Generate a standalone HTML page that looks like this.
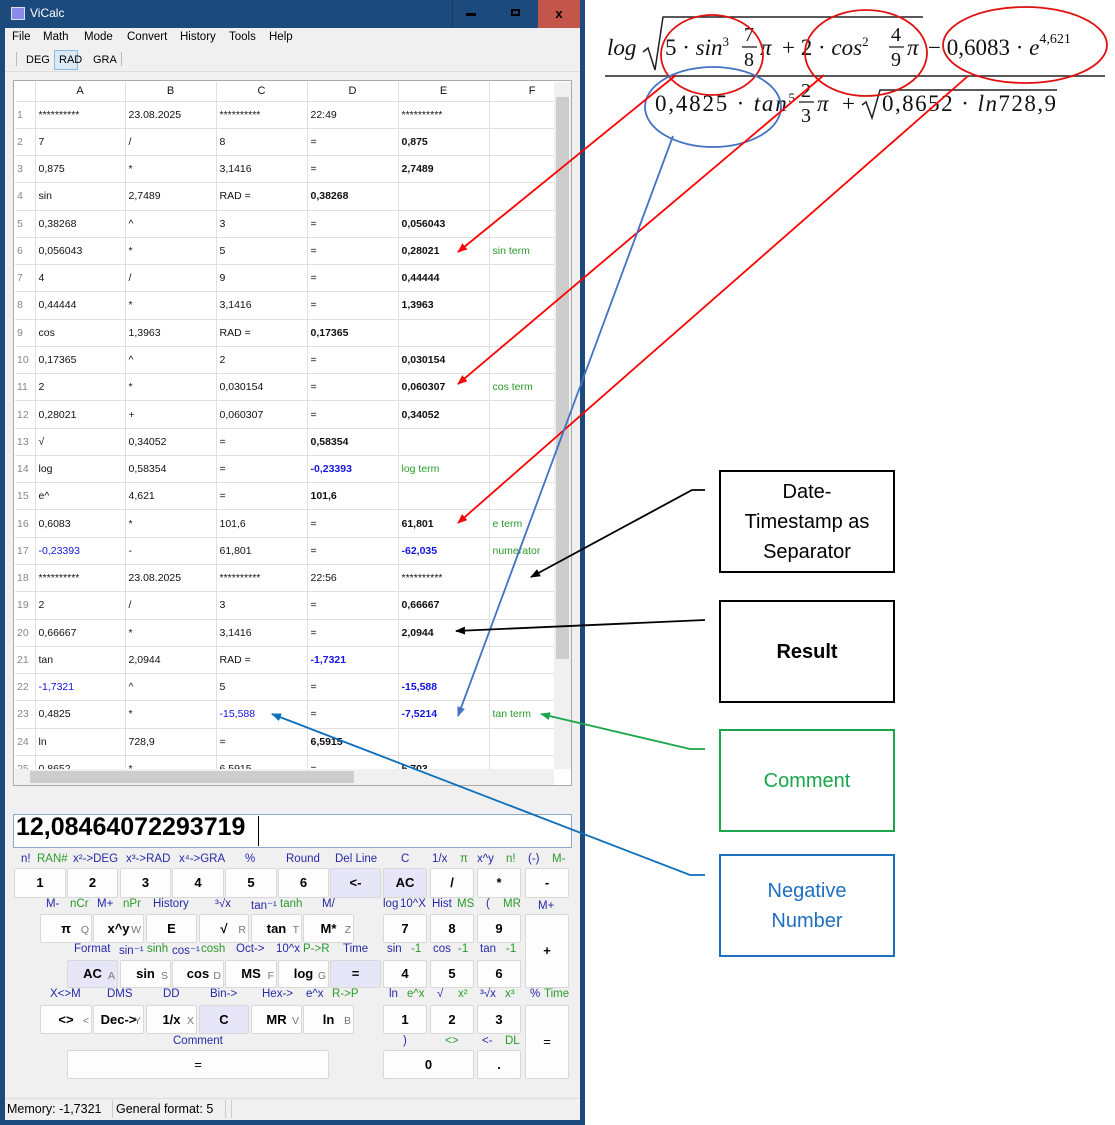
<!DOCTYPE html>
<html><head><meta charset="utf-8">
<style>
*{margin:0;padding:0;box-sizing:border-box}
body{width:1115px;height:1125px;background:#fff;position:relative;overflow:hidden;font-family:"Liberation Sans",sans-serif}
.a{position:absolute}
#win{left:0;top:0;width:585px;height:1125px;background:#1c4a7c}
#inner{left:5px;top:28px;width:575px;height:1092px;background:#f0f0f0}
.menu{top:31px;font-size:11.5px;color:#000}
table{border-collapse:collapse;table-layout:fixed;font-size:10.5px}
td{border-right:1px solid #e0e0e0;border-bottom:1px solid #e0e0e0;height:27.27px;padding-left:3px;white-space:nowrap;overflow:visible;color:#111}
tr.h td{height:19px;text-align:center;padding:0;font-size:11px}
td.n{color:#888;padding-left:2px;font-size:10.5px}
.b{font-weight:bold}
.bl{color:#1515e0}
.g{color:#2a9a2a}
.btn{position:absolute;background:#fdfdfd;border:1px solid #d8d8d8;border-radius:2px;font-weight:bold;font-size:13px;text-align:center;color:#000}
.sp{background:#e6e6f8}
.k{position:absolute;right:2px;bottom:-2px;font-size:10.5px;font-weight:normal;color:#777}
.L{position:absolute;font-size:11.5px;white-space:nowrap}
.lb{color:#2828a8}.lg{color:#2a9a2a}
.box{position:absolute;border:2px solid #000;display:flex;align-items:center;justify-content:center;text-align:center;font-size:20px;line-height:30px}
</style></head><body>
<div id="win" class="a"></div>
<div class="a" style="left:538px;top:0;width:42px;height:28px;background:#c4554b;color:#000;font-weight:bold;font-size:13px;text-align:center;line-height:27px">x</div>
<div class="a" style="left:452px;top:0;width:86px;height:28px;border-left:1px solid #16375c"></div>
<div class="a" style="left:466px;top:13px;width:10px;height:3px;background:#000"></div>
<div class="a" style="left:511px;top:9px;width:9px;height:7px;border:2px solid #000"></div>
<div class="a" style="left:11px;top:7px;width:14px;height:13px;background:#8a8ae8;border:1px solid #dde"></div>
<div class="a" style="left:30px;top:6px;color:#fff;font-size:12px">ViCalc</div>
<div id="inner" class="a"></div>
<div class="a menu" style="left:12px">File</div><div class="a menu" style="left:43px">Math</div><div class="a menu" style="left:84px">Mode</div><div class="a menu" style="left:127px">Convert</div><div class="a menu" style="left:180px">History</div><div class="a menu" style="left:229px">Tools</div><div class="a menu" style="left:269px">Help</div>
<div class="a" style="left:16px;top:52px;width:1px;height:14px;background:#bbb"></div>
<div class="a" style="left:26px;top:54px;font-size:11px">DEG</div>
<div class="a" style="left:54px;top:50px;width:24px;height:20px;background:#dbe9f6;border:1px solid #8bb8e0"></div>
<div class="a" style="left:59px;top:54px;font-size:11px">RAD</div>
<div class="a" style="left:93px;top:54px;font-size:11px">GRA</div>
<div class="a" style="left:121px;top:52px;width:1px;height:14px;background:#bbb"></div>
<div class="a" style="left:5px;top:71px;width:575px;height:1px;background:#ddd"></div>
<!-- grid -->
<div class="a" style="left:13px;top:80px;width:559px;height:706px;border:1px solid #aaa;background:#fff"></div>
<div class="a" style="left:15px;top:82px;width:539px;height:687px;overflow:hidden;background:#fff">
<table style="width:539px">
<colgroup><col style="width:20px"><col style="width:90px"><col style="width:91px"><col style="width:91px"><col style="width:91px"><col style="width:91px"><col style="width:65px"></colgroup>
<tr class="h"><td></td><td>A</td><td>B</td><td>C</td><td>D</td><td>E</td><td style="text-align:right;padding-right:18px">F</td></tr>
<tr><td class="n">1</td><td>**********</td><td>23.08.2025</td><td>**********</td><td>22:49</td><td>**********</td><td></td></tr>
<tr><td class="n">2</td><td>7</td><td>/</td><td>8</td><td>=</td><td class="b">0,875</td><td></td></tr>
<tr><td class="n">3</td><td>0,875</td><td>*</td><td>3,1416</td><td>=</td><td class="b">2,7489</td><td></td></tr>
<tr><td class="n">4</td><td>sin</td><td>2,7489</td><td>RAD =</td><td class="b">0,38268</td><td></td><td></td></tr>
<tr><td class="n">5</td><td>0,38268</td><td>^</td><td>3</td><td>=</td><td class="b">0,056043</td><td></td></tr>
<tr><td class="n">6</td><td>0,056043</td><td>*</td><td>5</td><td>=</td><td class="b">0,28021</td><td class="g">sin term</td></tr>
<tr><td class="n">7</td><td>4</td><td>/</td><td>9</td><td>=</td><td class="b">0,44444</td><td></td></tr>
<tr><td class="n">8</td><td>0,44444</td><td>*</td><td>3,1416</td><td>=</td><td class="b">1,3963</td><td></td></tr>
<tr><td class="n">9</td><td>cos</td><td>1,3963</td><td>RAD =</td><td class="b">0,17365</td><td></td><td></td></tr>
<tr><td class="n">10</td><td>0,17365</td><td>^</td><td>2</td><td>=</td><td class="b">0,030154</td><td></td></tr>
<tr><td class="n">11</td><td>2</td><td>*</td><td>0,030154</td><td>=</td><td class="b">0,060307</td><td class="g">cos term</td></tr>
<tr><td class="n">12</td><td>0,28021</td><td>+</td><td>0,060307</td><td>=</td><td class="b">0,34052</td><td></td></tr>
<tr><td class="n">13</td><td>√</td><td>0,34052</td><td>=</td><td class="b">0,58354</td><td></td><td></td></tr>
<tr><td class="n">14</td><td>log</td><td>0,58354</td><td>=</td><td class="b bl">-0,23393</td><td class="g">log term</td><td></td></tr>
<tr><td class="n">15</td><td>e^</td><td>4,621</td><td>=</td><td class="b">101,6</td><td></td><td></td></tr>
<tr><td class="n">16</td><td>0,6083</td><td>*</td><td>101,6</td><td>=</td><td class="b">61,801</td><td class="g">e term</td></tr>
<tr><td class="n">17</td><td class="bl">-0,23393</td><td>-</td><td>61,801</td><td>=</td><td class="b bl">-62,035</td><td class="g">numerator</td></tr>
<tr><td class="n">18</td><td>**********</td><td>23.08.2025</td><td>**********</td><td>22:56</td><td>**********</td><td></td></tr>
<tr><td class="n">19</td><td>2</td><td>/</td><td>3</td><td>=</td><td class="b">0,66667</td><td></td></tr>
<tr><td class="n">20</td><td>0,66667</td><td>*</td><td>3,1416</td><td>=</td><td class="b">2,0944</td><td></td></tr>
<tr><td class="n">21</td><td>tan</td><td>2,0944</td><td>RAD =</td><td class="b bl">-1,7321</td><td></td><td></td></tr>
<tr><td class="n">22</td><td class="bl">-1,7321</td><td>^</td><td>5</td><td>=</td><td class="b bl">-15,588</td><td></td></tr>
<tr><td class="n">23</td><td>0,4825</td><td>*</td><td class="bl">-15,588</td><td>=</td><td class="b bl">-7,5214</td><td class="g">tan term</td></tr>
<tr><td class="n">24</td><td>ln</td><td>728,9</td><td>=</td><td class="b">6,5915</td><td></td><td></td></tr>
<tr><td class="n">25</td><td>0,8652</td><td>*</td><td>6,5915</td><td>=</td><td class="b">5,703</td><td></td></tr>
</table></div>
<div class="a" style="left:554px;top:82px;width:17px;height:687px;background:#f0f0f0"></div>
<div class="a" style="left:556px;top:97px;width:13px;height:562px;background:#cdcdcd"></div>
<div class="a" style="left:15px;top:769px;width:539px;height:16px;background:#f0f0f0"></div>
<div class="a" style="left:30px;top:771px;width:324px;height:12px;background:#cdcdcd"></div>
<!-- display -->
<div class="a" style="left:13px;top:814px;width:559px;height:34px;border:1px solid #8aa8c8;background:#fff"></div>
<div class="a" style="left:16px;top:813px;font-size:25px;font-weight:bold">12,08464072293719</div>
<div class="a" style="left:258px;top:816px;width:1px;height:30px;background:#000"></div>
<!-- row1 labels -->
<div class="L lb" style="left:21px;top:853px">n!</div><div class="L lg" style="left:37px;top:853px">RAN#</div><div class="L lb" style="left:73px;top:853px">x²-&gt;DEG</div><div class="L lb" style="left:126px;top:853px">x³-&gt;RAD</div><div class="L lb" style="left:179px;top:853px">x⁴-&gt;GRA</div><div class="L lb" style="left:245px;top:853px">%</div><div class="L lb" style="left:286px;top:853px">Round</div><div class="L lb" style="left:335px;top:853px">Del Line</div><div class="L lb" style="left:401px;top:853px">C</div><div class="L lb" style="left:432px;top:853px">1/x</div><div class="L lg" style="left:460px;top:853px">π</div><div class="L lb" style="left:477px;top:853px">x^y</div><div class="L lg" style="left:506px;top:853px">n!</div><div class="L lb" style="left:528px;top:853px">(-)</div><div class="L lg" style="left:552px;top:853px">M-</div>
<!-- row1 buttons -->
<div class="btn" style="left:14px;top:868px;width:52px;height:30px;line-height:28px">1</div>
<div class="btn" style="left:67px;top:868px;width:51px;height:30px;line-height:28px">2</div>
<div class="btn" style="left:120px;top:868px;width:51px;height:30px;line-height:28px">3</div>
<div class="btn" style="left:172px;top:868px;width:52px;height:30px;line-height:28px">4</div>
<div class="btn" style="left:225px;top:868px;width:52px;height:30px;line-height:28px">5</div>
<div class="btn" style="left:278px;top:868px;width:51px;height:30px;line-height:28px">6</div>
<div class="btn sp" style="left:330px;top:868px;width:51px;height:30px;line-height:28px">&lt;-</div>
<div class="btn sp" style="left:383px;top:868px;width:44px;height:30px;line-height:28px">AC</div>
<div class="btn" style="left:430px;top:868px;width:44px;height:30px;line-height:28px">/</div>
<div class="btn" style="left:477px;top:868px;width:44px;height:30px;line-height:28px">*</div>
<div class="btn" style="left:525px;top:868px;width:44px;height:30px;line-height:28px">-</div>
<!-- row2 labels -->
<div class="L lb" style="left:46px;top:898px">M-</div><div class="L lg" style="left:70px;top:898px">nCr</div><div class="L lb" style="left:97px;top:898px">M+</div><div class="L lg" style="left:123px;top:898px">nPr</div><div class="L lb" style="left:153px;top:898px">History</div><div class="L lb" style="left:215px;top:898px">³√x</div><div class="L lb" style="left:251px;top:898px">tan⁻¹</div><div class="L lg" style="left:280px;top:898px">tanh</div><div class="L lb" style="left:322px;top:898px">M/</div><div class="L lb" style="left:383px;top:898px">log</div><div class="L lb" style="left:400px;top:898px">10^X</div><div class="L lb" style="left:432px;top:898px">Hist</div><div class="L lg" style="left:457px;top:898px">MS</div><div class="L lb" style="left:486px;top:898px">(</div><div class="L lg" style="left:503px;top:898px">MR</div><div class="L lb" style="left:538px;top:900px">M+</div>
<div class="btn" style="left:40px;top:914px;width:52px;height:29px;line-height:27px">π<span class="k">Q</span></div>
<div class="btn" style="left:93px;top:914px;width:51px;height:29px;line-height:27px">x^y<span class="k">W</span></div>
<div class="btn" style="left:146px;top:914px;width:51px;height:29px;line-height:27px">E</div>
<div class="btn" style="left:199px;top:914px;width:50px;height:29px;line-height:27px">√<span class="k">R</span></div>
<div class="btn" style="left:251px;top:914px;width:51px;height:29px;line-height:27px">tan<span class="k">T</span></div>
<div class="btn" style="left:303px;top:914px;width:51px;height:29px;line-height:27px">M*<span class="k">Z</span></div>
<div class="btn" style="left:383px;top:914px;width:44px;height:29px;line-height:27px">7</div>
<div class="btn" style="left:430px;top:914px;width:44px;height:29px;line-height:27px">8</div>
<div class="btn" style="left:477px;top:914px;width:44px;height:29px;line-height:27px">9</div>
<div class="btn" style="left:525px;top:914px;width:44px;height:74px;line-height:72px">+</div>
<!-- row3 labels -->
<div class="L lb" style="left:74px;top:943px">Format</div><div class="L lb" style="left:119px;top:943px">sin⁻¹</div><div class="L lg" style="left:147px;top:943px">sinh</div><div class="L lb" style="left:172px;top:943px">cos⁻¹</div><div class="L lg" style="left:201px;top:943px">cosh</div><div class="L lb" style="left:236px;top:943px">Oct-&gt;</div><div class="L lb" style="left:276px;top:943px">10^x</div><div class="L lg" style="left:303px;top:943px">P-&gt;R</div><div class="L lb" style="left:343px;top:943px">Time</div><div class="L lb" style="left:387px;top:943px">sin</div><div class="L lg" style="left:411px;top:943px">-1</div><div class="L lb" style="left:433px;top:943px">cos</div><div class="L lg" style="left:458px;top:943px">-1</div><div class="L lb" style="left:480px;top:943px">tan</div><div class="L lg" style="left:506px;top:943px">-1</div>
<div class="btn sp" style="left:67px;top:960px;width:51px;height:28px;line-height:26px">AC<span class="k">A</span></div>
<div class="btn" style="left:120px;top:960px;width:51px;height:28px;line-height:26px">sin<span class="k">S</span></div>
<div class="btn" style="left:172px;top:960px;width:52px;height:28px;line-height:26px">cos<span class="k">D</span></div>
<div class="btn" style="left:225px;top:960px;width:52px;height:28px;line-height:26px">MS<span class="k">F</span></div>
<div class="btn" style="left:278px;top:960px;width:51px;height:28px;line-height:26px">log<span class="k">G</span></div>
<div class="btn sp" style="left:330px;top:960px;width:51px;height:28px;line-height:26px">=</div>
<div class="btn" style="left:383px;top:960px;width:44px;height:28px;line-height:26px">4</div>
<div class="btn" style="left:430px;top:960px;width:44px;height:28px;line-height:26px">5</div>
<div class="btn" style="left:477px;top:960px;width:44px;height:28px;line-height:26px">6</div>
<!-- row4 labels -->
<div class="L lb" style="left:50px;top:988px">X&lt;&gt;M</div><div class="L lb" style="left:107px;top:988px">DMS</div><div class="L lb" style="left:163px;top:988px">DD</div><div class="L lb" style="left:210px;top:988px">Bin-&gt;</div><div class="L lb" style="left:262px;top:988px">Hex-&gt;</div><div class="L lb" style="left:306px;top:988px">e^x</div><div class="L lg" style="left:332px;top:988px">R-&gt;P</div><div class="L lb" style="left:389px;top:988px">ln</div><div class="L lg" style="left:407px;top:988px">e^x</div><div class="L lb" style="left:437px;top:988px">√</div><div class="L lg" style="left:458px;top:988px">x²</div><div class="L lb" style="left:480px;top:988px">³√x</div><div class="L lg" style="left:505px;top:988px">x³</div><div class="L lb" style="left:530px;top:988px">%</div><div class="L lg" style="left:544px;top:988px">Time</div>
<div class="btn" style="left:40px;top:1005px;width:52px;height:29px;line-height:27px">&lt;&gt;<span class="k">&lt;</span></div>
<div class="btn" style="left:93px;top:1005px;width:51px;height:29px;line-height:27px">Dec-&gt;<span class="k">Y</span></div>
<div class="btn" style="left:146px;top:1005px;width:51px;height:29px;line-height:27px">1/x<span class="k">X</span></div>
<div class="btn sp" style="left:199px;top:1005px;width:50px;height:29px;line-height:27px">C</div>
<div class="btn" style="left:251px;top:1005px;width:51px;height:29px;line-height:27px">MR<span class="k">V</span></div>
<div class="btn" style="left:303px;top:1005px;width:51px;height:29px;line-height:27px">ln<span class="k">B</span></div>
<div class="btn" style="left:383px;top:1005px;width:44px;height:29px;line-height:27px">1</div>
<div class="btn" style="left:430px;top:1005px;width:44px;height:29px;line-height:27px">2</div>
<div class="btn" style="left:477px;top:1005px;width:44px;height:29px;line-height:27px">3</div>
<div class="btn" style="left:525px;top:1005px;width:44px;height:74px;line-height:72px;font-weight:normal">=</div>
<!-- row5 -->
<div class="L lb" style="left:173px;top:1035px">Comment</div><div class="L lb" style="left:403px;top:1035px">)</div><div class="L lg" style="left:445px;top:1035px">&lt;&gt;</div><div class="L lb" style="left:482px;top:1035px">&lt;-</div><div class="L lg" style="left:505px;top:1035px">DL</div>
<div class="btn" style="left:67px;top:1050px;width:262px;height:29px;line-height:27px;font-weight:normal">=</div>
<div class="btn" style="left:383px;top:1050px;width:91px;height:29px;line-height:27px">0</div>
<div class="btn" style="left:477px;top:1050px;width:44px;height:29px;line-height:27px">.</div>
<!-- status -->
<div class="a" style="left:5px;top:1098px;width:575px;height:1px;background:#ddd"></div>
<div class="a" style="left:7px;top:1102px;font-size:12.5px">Memory: -1,7321</div>
<div class="a" style="left:112px;top:1100px;width:1px;height:18px;background:#ccc"></div>
<div class="a" style="left:116px;top:1102px;font-size:12.5px">General format: 5</div>
<div class="a" style="left:225px;top:1100px;width:1px;height:18px;background:#ccc"></div>
<div class="a" style="left:231px;top:1100px;width:1px;height:18px;background:#ccc"></div>
<!-- boxes -->
<div class="box" style="left:719px;top:470px;width:176px;height:103px">Date-<br>Timestamp as<br>Separator</div>
<div class="box" style="left:719px;top:600px;width:176px;height:103px;font-weight:bold">Result</div>
<div class="box" style="left:719px;top:729px;width:176px;height:103px;border-color:#1aa64a;color:#1aa64a">Comment</div>
<div class="box" style="left:719px;top:854px;width:176px;height:103px;border-color:#1f6fc0;color:#1f6fc0">Negative<br>Number</div>
<svg class="a" style="left:0;top:0" width="1115" height="1125" viewBox="0 0 1115 1125">
<defs>
<marker id="mr" markerWidth="10" markerHeight="8" refX="9" refY="4" orient="auto" markerUnits="userSpaceOnUse"><path d="M0,0 L10,4 L0,8 Z" fill="#f00"/></marker>
<marker id="mb" markerWidth="10" markerHeight="8" refX="9" refY="4" orient="auto" markerUnits="userSpaceOnUse"><path d="M0,0 L10,4 L0,8 Z" fill="#4472c4"/></marker>
<marker id="mb2" markerWidth="10" markerHeight="8" refX="9" refY="4" orient="auto" markerUnits="userSpaceOnUse"><path d="M0,0 L10,4 L0,8 Z" fill="#0b6fbd"/></marker>
<marker id="mk" markerWidth="10" markerHeight="8" refX="9" refY="4" orient="auto" markerUnits="userSpaceOnUse"><path d="M0,0 L10,4 L0,8 Z" fill="#000"/></marker>
<marker id="mg" markerWidth="10" markerHeight="8" refX="9" refY="4" orient="auto" markerUnits="userSpaceOnUse"><path d="M0,0 L10,4 L0,8 Z" fill="#1aa64a"/></marker>
</defs>
<g font-family="Liberation Serif, serif" font-size="23" fill="#111">
<text x="607" y="55" font-style="italic">log</text>
<path d="M643,52 L648,48 L655,70 L663,17 L923,17" stroke="#222" stroke-width="1.5" fill="none"/>
<text x="665" y="55">5 · <tspan font-style="italic">sin</tspan><tspan font-size="13" dy="-9">3</tspan></text>
<text x="744" y="41" font-size="20">7</text><line x1="742" y1="47" x2="757" y2="47" stroke="#222" stroke-width="1.3"/><text x="744" y="66" font-size="20">8</text>
<text x="760" y="55" font-style="italic">π</text>
<text x="782" y="55">+ 2 · <tspan font-style="italic">cos</tspan><tspan font-size="13" dy="-9">2</tspan></text>
<text x="891" y="41" font-size="20">4</text><line x1="889" y1="47" x2="904" y2="47" stroke="#222" stroke-width="1.3"/><text x="891" y="66" font-size="20">9</text>
<text x="907" y="55" font-style="italic">π</text>
<text x="928" y="55">− 0,6083 · <tspan font-style="italic">e</tspan><tspan font-size="14" dy="-12">4,621</tspan></text>
<line x1="605" y1="76" x2="1105" y2="76" stroke="#222" stroke-width="1.5"/>
<text x="655" y="111" textLength="140">0,4825 · <tspan font-style="italic">tan</tspan><tspan font-size="13" dy="-9">5</tspan></text>
<text x="801" y="97" font-size="20">2</text><line x1="799" y1="102" x2="814" y2="102" stroke="#222" stroke-width="1.3"/><text x="801" y="122" font-size="20">3</text>
<text x="817" y="111" font-style="italic">π</text><text x="842" y="111">+</text>
<path d="M862,105 L866,102 L872,118 L880,90 L1057,90" stroke="#222" stroke-width="1.5" fill="none"/>
<text x="882" y="111" textLength="174">0,8652 · <tspan font-style="italic">ln</tspan>728,9</text>
</g>
<g fill="none" stroke-width="1.8">
<ellipse cx="712" cy="55" rx="51" ry="40" stroke="#e01010"/>
<ellipse cx="866" cy="53" rx="61" ry="43" stroke="#e01010"/>
<ellipse cx="1025" cy="45" rx="82" ry="38" stroke="#e01010"/>
<ellipse cx="713" cy="107" rx="68" ry="40" stroke="#4472c4"/>
<line x1="676" y1="75" x2="458" y2="252" stroke="#f00" marker-end="url(#mr)"/>
<line x1="824" y1="75" x2="458" y2="384" stroke="#f00" marker-end="url(#mr)"/>
<line x1="968" y1="76" x2="458" y2="523" stroke="#f00" marker-end="url(#mr)"/>
<line x1="673" y1="136" x2="458" y2="716" stroke="#4472c4" marker-end="url(#mb)"/>
<polyline points="705,490 692,490 531,577" stroke="#000" marker-end="url(#mk)"/>
<line x1="705" y1="620" x2="456" y2="631" stroke="#000" marker-end="url(#mk)"/>
<polyline points="705,749 690,749 541,714" stroke="#1aa64a" marker-end="url(#mg)"/>
<polyline points="705,875 690,875 272,714" stroke="#0b6fbd" marker-end="url(#mb2)"/>
</g>
</svg>
</body></html>
